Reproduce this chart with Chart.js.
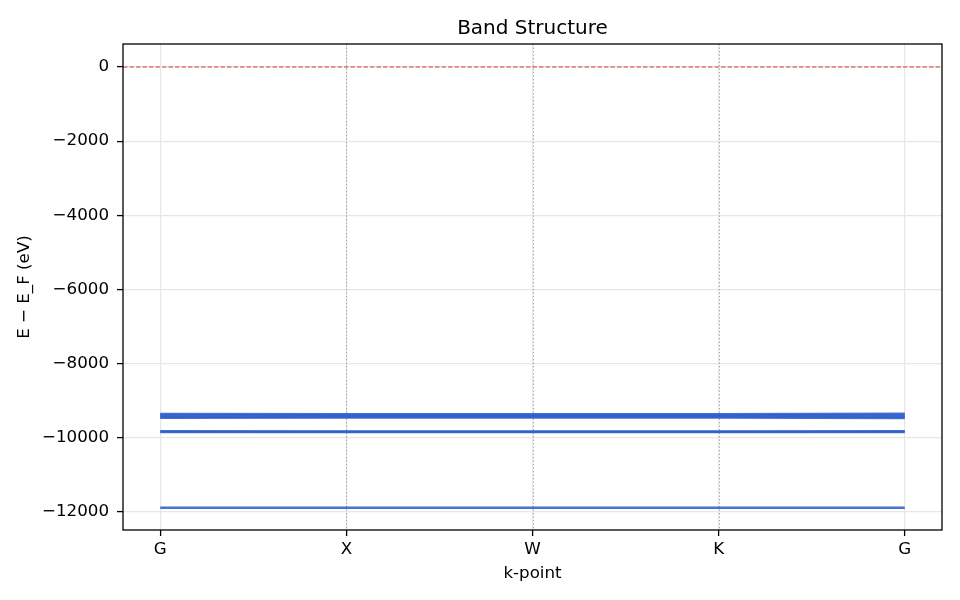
<!DOCTYPE html>
<html>
<head>
<meta charset="utf-8">
<script src="https://cdn.jsdelivr.net/npm/chart.js@4.4.1/dist/chart.umd.min.js"></script>
<style>
  html, body { margin: 0; padding: 0; background: #fff; }
  #wrap { width: 960px; height: 600px; }
</style>
</head>
<body>
<div id="wrap"><canvas id="bandChart" width="960" height="600"></canvas></div>
<script>
// ==================================================
// DATA
// ==================================================
const kPath = [0, 1, 2, 3, 4];
const kLabels = ["G", "X", "W", "K", "G"];
const symmetryLines = [1, 2, 3];
const yTicks = [0, -2000, -4000, -6000, -8000, -10000, -12000];

// energies relative to E_F (eV), one array per band along kPath
const band1 = [-11890, -11890, -11890, -11890, -11890];
const band2 = [-9850, -9850, -9850, -9850, -9850];
const band3 = [-9830, -9835, -9835, -9835, -9830];
const band4 = [-9465, -9455, -9455, -9455, -9470];
const band5 = [-9435, -9430, -9430, -9430, -9435];
const band6 = [-9400, -9400, -9400, -9400, -9395];
const band7 = [-9365, -9370, -9370, -9370, -9355];
const bands = [band1, band2, band3, band4, band5, band6, band7];

const fermiLevel = 0;
const chartTitle = "Band Structure";

// ==================================================
// HELPERS
// ==================================================
const FONT = "'DejaVu Sans', sans-serif";
const fmtMinus = v => (v < 0 ? "\u2212" + Math.abs(v) : String(v));

const refLines = {
    id: "refLines",
    beforeDatasetsDraw(chart) {
        const { ctx, chartArea: a, scales: { x, y } } = chart;
        ctx.save();
        ctx.beginPath();
        ctx.rect(a.left, a.top, a.right - a.left, a.bottom - a.top);
        ctx.clip();
        // high-symmetry markers
        ctx.strokeStyle = "rgba(128,128,128,0.7)";
        ctx.lineWidth = 1;
        ctx.setLineDash([1.3, 2.2]);
        symmetryLines.forEach(k => {
            const px = Math.round(x.getPixelForValue(k)) + 0.5;
            ctx.beginPath();
            ctx.moveTo(px, a.top);
            ctx.lineTo(px, a.bottom);
            ctx.stroke();
        });
        // Fermi level
        ctx.strokeStyle = "rgba(214,39,40,0.6)";
        ctx.lineWidth = 1.3;
        ctx.setLineDash([4.5, 2]);
        const py = y.getPixelForValue(fermiLevel);
        ctx.beginPath();
        ctx.moveTo(a.left, py);
        ctx.lineTo(a.right, py);
        ctx.stroke();
        ctx.restore();
    },
    afterDraw(chart) {
        const { ctx, chartArea: a } = chart;
        ctx.save();
        // frame
        ctx.strokeStyle = "#000";
        ctx.lineWidth = 1.3;
        ctx.strokeRect(a.left, a.top, a.right - a.left, a.bottom - a.top);
        // title centred over the plot area
        ctx.fillStyle = "#000";
        ctx.font = "20px " + FONT;
        ctx.textAlign = "center";
        ctx.textBaseline = "middle";
        ctx.fillText(chartTitle, (a.left + a.right) / 2, 28.5);
        ctx.restore();
    }
};

// ==================================================
// CHART
// ==================================================
const ctx = document.getElementById("bandChart").getContext("2d");
new Chart(ctx, {
    type: "line",
    data: {
        datasets: bands.map((b, i) => ({
            label: "band " + (i + 1),
            data: kPath.map((k, j) => ({ x: k, y: b[j] })),
            borderColor: "rgba(45,95,205,0.88)",
            borderWidth: 2.5,
            pointRadius: 0,
            tension: 0,
            fill: false
        }))
    },
    options: {
        responsive: false,
        animation: false,
        devicePixelRatio: 1,
        layout: { padding: { left: 0, right: 18, top: 44, bottom: 0 } },
        plugins: {
            legend: { display: false },
            tooltip: { enabled: false },
            title: { display: false }
        },
        scales: {
            x: {
                type: "linear",
                min: -0.2,
                max: 4.2,
                afterBuildTicks: s => { s.ticks = kPath.map(v => ({ value: v })); },
                afterFit: s => { s.height = 70; },
                ticks: {
                    color: "#000",
                    font: { family: FONT, size: 16.7 },
                    padding: 4,
                    maxRotation: 0,
                    callback: (v, i) => kLabels[i]
                },
                grid: { color: "#e6e6e6", lineWidth: 1.2, tickColor: "#000", tickLength: 6, tickWidth: 1.3 },
                border: { display: false },
                title: {
                    display: true,
                    text: "k-point",
                    color: "#000",
                    font: { family: FONT, size: 16.7 },
                    padding: { top: 0, bottom: 16 }
                }
            },
            y: {
                type: "linear",
                min: -12493,
                max: 620,
                afterBuildTicks: s => { s.ticks = yTicks.map(v => ({ value: v })); },
                afterFit: s => { s.width = 123; },
                ticks: {
                    color: "#000",
                    font: { family: FONT, size: 16.7 },
                    padding: 8,
                    callback: v => fmtMinus(v)
                },
                grid: { color: "#e6e6e6", lineWidth: 1.2, tickColor: "#000", tickLength: 6, tickWidth: 1.3 },
                border: { display: false },
                title: {
                    display: true,
                    text: "E \u2212 E_F (eV)",
                    color: "#000",
                    font: { family: FONT, size: 16.7 },
                    padding: { top: 15, bottom: 0 }
                }
            }
        }
    },
    plugins: [refLines]
});
</script>
</body>
</html>
